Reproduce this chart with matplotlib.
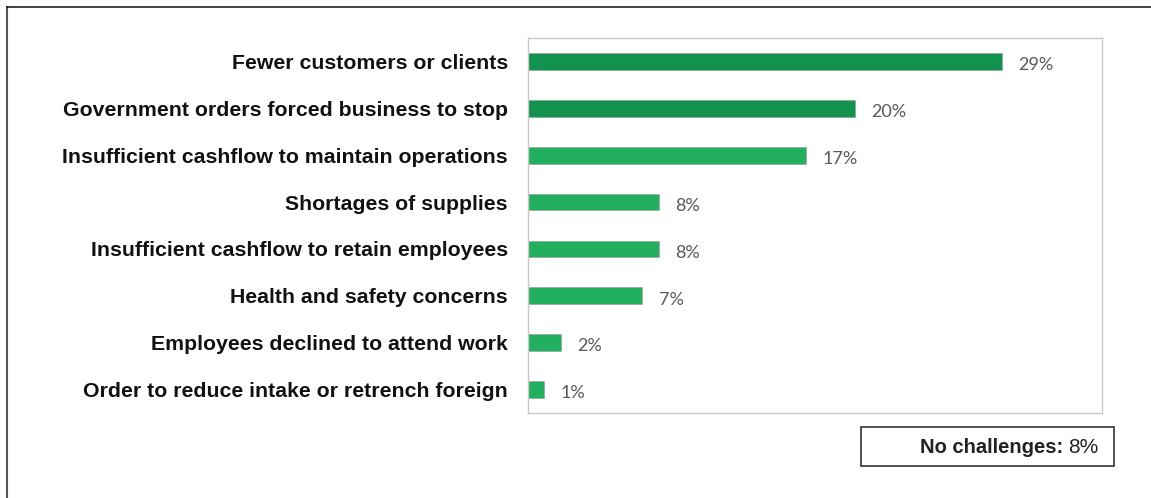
import numpy as np
import matplotlib
matplotlib.use("Agg")
import matplotlib.pyplot as plt
from matplotlib.lines import Line2D
from matplotlib.patches import Rectangle

# challenges reported, top to bottom
categories = ["Fewer customers or clients",
              "Government orders forced business to stop",
              "Insufficient cashflow to maintain operations",
              "Shortages of supplies",
              "Insufficient cashflow to retain employees",
              "Health and safety concerns",
              "Employees declined to attend work",
              "Order to reduce intake or retrench foreign"]
shares = [29, 20, 17, 8, 8, 7, 2, 1]
no_challenges = 8

dark_green = "#12924f"
light_green = "#22b060"
colors = [dark_green, dark_green] + [light_green] * 6

W, H = 1151, 498
fig = plt.figure(figsize=(W / 100, H / 100), dpi=100)

# axes box in pixel coords
x0, x1, y0, y1 = 528, 1102, 38, 413
ax = fig.add_axes([x0 / W, 1 - y1 / H, (x1 - x0) / W, (y1 - y0) / H])

y = np.arange(len(categories))
ax.barh(y, shares, height=0.36, color=colors, edgecolor="#9a9a9a", linewidth=0.4)
ax.set_xlim(0, 35.1)
ax.set_ylim(len(categories) - 0.5, -0.5)

for yi, v in zip(y, shares):
    ax.text(v + 1.0, yi + 0.08, f"{v}%", va="center", ha="left",
            fontsize=13, color="#595959", family="Lato")

ax.set_xticks([])
ax.set_yticks(y)
ax.set_yticklabels(categories, fontsize=15.3, fontweight="bold",
                   family="Liberation Sans", color="#111111")
ax.tick_params(axis="y", length=0, pad=14.5)
for s in ax.spines.values():
    s.set_color("#c8c8c8")
    s.set_linewidth(1.0)

# outer frame: left and top lines only
fig.add_artist(Line2D([6.5 / W, 6.5 / W], [0, 1 - 7 / H], color="#555555", lw=1.5,
                      transform=fig.transFigure))
fig.add_artist(Line2D([6.5 / W, 1], [1 - 7 / H, 1 - 7 / H], color="#222222", lw=1.2,
                      transform=fig.transFigure))

# "No challenges" box
bx0, bx1, by0, by1 = 861, 1114, 427, 466
fig.add_artist(Rectangle((bx0 / W, 1 - by1 / H), (bx1 - bx0) / W, (by1 - by0) / H,
                         fill=False, edgecolor="#333333", lw=1.2,
                         transform=fig.transFigure))
ty = 1 - (by0 + by1) / 2 / H - 1 / H
t2 = fig.text(1098 / W, ty, f"{no_challenges}%", ha="right", va="center",
              fontsize=15, family="Liberation Sans", color="#222222")
fig.canvas.draw()
bb = t2.get_window_extent()
fig.text(bb.x0 / W - 4 / W, ty, "No challenges:", ha="right", va="center",
         fontsize=14.5, fontweight="bold", family="Liberation Sans", color="#222222")

fig.savefig("out.png", dpi=100, facecolor="white")
